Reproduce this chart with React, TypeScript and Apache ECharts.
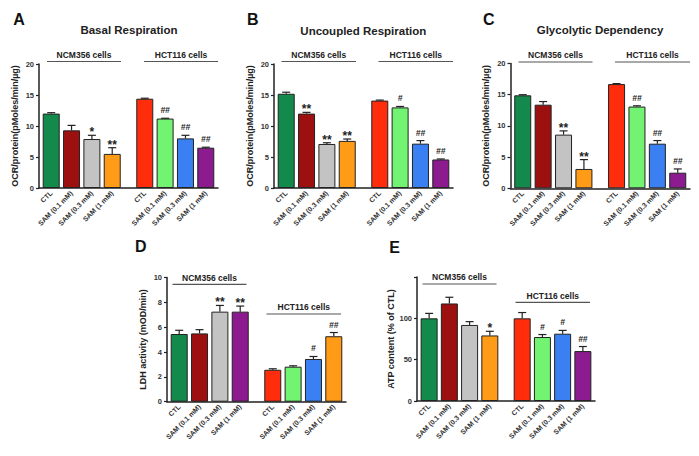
import React, { useEffect, useRef } from "react";
import * as echarts from "echarts";

// ---- data ----
const categories = ["CTL", "SAM (0.1 mM)", "SAM (0.3 mM)", "SAM (1 mM)"];

const basalNCM = [12.0, 9.3, 7.9, 5.5];
const basalNCMErr = [0.15, 0.8, 0.6, 1.0];
const basalHCT = [14.4, 11.2, 8.0, 6.5];
const basalHCTErr = [0.08, 0.05, 0.5, 0.08];
const basalSig = ["", "", "*", "**", "", "##", "##", "##"];

const uncoupledNCM = [15.2, 12.0, 7.1, 7.6];
const uncoupledNCMErr = [0.25, 0.2, 0.2, 0.3];
const uncoupledHCT = [14.1, 13.0, 7.15, 4.6];
const uncoupledHCTErr = [0.08, 0.15, 0.5, 0.08];
const uncoupledSig = ["", "**", "**", "**", "", "#", "##", "##"];

const glycoNCM = [14.9, 13.4, 8.6, 3.1];
const glycoNCMErr = [0.1, 0.5, 0.6, 1.5];
const glycoHCT = [16.7, 13.1, 7.15, 2.5];
const glycoHCTErr = [0.08, 0.12, 0.5, 0.6];
const glycoSig = ["", "", "**", "**", "", "##", "##", "##"];

const ldhNCM = [5.45, 5.5, 7.25, 7.25];
const ldhNCMErr = [0.3, 0.3, 0.5, 0.45];
const ldhHCT = [2.57, 2.82, 3.44, 5.27];
const ldhHCTErr = [0.08, 0.07, 0.2, 0.3];
const ldhSig = ["", "", "**", "**", "", "", "#", "##"];

const atpNCM = [100, 118, 92, 79.3];
const atpNCMErr = [6, 7.5, 4, 5];
const atpHCT = [100, 77.4, 81.4, 60.4];
const atpHCTErr = [7, 3, 4, 5.5];
const atpSig = ["", "", "", "*", "", "#", "#", "##"];

// ---- colours ----
const GREEN = "#13894b";
const DARKRED = "#9c1010";
const GREY = "#c3c3c3";
const ORANGE = "#ff9b16";
const RED = "#ff2d0c";
const LIGHTGREEN = "#72f472";
const BLUE = "#3b80f2";
const PURPLE = "#8b1b8e";
const colorsStd = [GREEN, DARKRED, GREY, ORANGE, RED, LIGHTGREEN, BLUE, PURPLE];
const colorsLDH = [GREEN, DARKRED, GREY, PURPLE, RED, LIGHTGREEN, BLUE, ORANGE];

// ---- layout ----
const FONT = "'Liberation Sans', Arial, Helvetica, sans-serif";
const N_SLOTS = 45;
const SLOT_POS = [3, 8, 13, 18, 26, 31, 36, 41];
const slotNames = Array.from({ length: N_SLOTS }, (_, i) => "s" + i);
const allLabels = [...categories, ...categories];

type Panel = {
  letter: string;
  letterPos: [number, number];
  title: string;
  titlePos: [number, number];
  yName: string;
  max: number;
  interval: number;
  hideTop: boolean;
  grid: { left: number; top: number; width: number; height: number };
  values: number[];
  errs: number[];
  sig: string[];
  colors: string[];
  groups: { x1: number; x2: number; y: number; text: string }[];
};

const panels: Panel[] = [
  {
    letter: "A", letterPos: [19, 19], title: "Basal Respiration", titlePos: [129, 30],
    yName: "OCR/protein(pMoles/min/µg)", max: 20, interval: 5, hideTop: false,
    grid: { left: 39, top: 64, width: 179, height: 124 },
    values: [...basalNCM, ...basalHCT], errs: [...basalNCMErr, ...basalHCTErr], sig: basalSig,
    colors: colorsStd,
    groups: [
      { x1: 47, x2: 121, y: 61.5, text: "NCM356 cells" },
      { x1: 144, x2: 218, y: 61.5, text: "HCT116 cells" },
    ],
  },
  {
    letter: "B", letterPos: [252.7, 19], title: "Uncoupled Respiration", titlePos: [363.3, 30.5],
    yName: "OCR/protein(pMoles/min/µg)", max: 20, interval: 5, hideTop: false,
    grid: { left: 274, top: 64, width: 179, height: 124 },
    values: [...uncoupledNCM, ...uncoupledHCT], errs: [...uncoupledNCMErr, ...uncoupledHCTErr], sig: uncoupledSig,
    colors: colorsStd,
    groups: [
      { x1: 281.5, x2: 356, y: 61.5, text: "NCM356 cells" },
      { x1: 378.5, x2: 453, y: 61.5, text: "HCT116 cells" },
    ],
  },
  {
    letter: "C", letterPos: [488.7, 19], title: "Glycolytic Dependency", titlePos: [600, 30],
    yName: "OCR/protein(pMoles/min/µg)", max: 20, interval: 5, hideTop: false,
    grid: { left: 510.5, top: 63.5, width: 179.5, height: 124.8 },
    values: [...glycoNCM, ...glycoHCT], errs: [...glycoNCMErr, ...glycoHCTErr], sig: glycoSig,
    colors: colorsStd,
    groups: [
      { x1: 518.5, x2: 592.5, y: 62, text: "NCM356 cells" },
      { x1: 615, x2: 690, y: 62, text: "HCT116 cells" },
    ],
  },
  {
    letter: "D", letterPos: [140.8, 246.7], title: "", titlePos: [0, 0],
    yName: "LDH activity (mOD/min)", max: 10, interval: 2, hideTop: false,
    grid: { left: 167, top: 277.5, width: 179, height: 124.2 },
    values: [...ldhNCM, ...ldhHCT], errs: [...ldhNCMErr, ...ldhHCTErr], sig: ldhSig,
    colors: colorsLDH,
    groups: [
      { x1: 172.5, x2: 246.5, y: 284.3, text: "NCM356 cells" },
      { x1: 266.5, x2: 341, y: 314, text: "HCT116 cells" },
    ],
  },
  {
    letter: "E", letterPos: [394.7, 247.3], title: "", titlePos: [0, 0],
    yName: "ATP content (% of CTL)", max: 150, interval: 50, hideTop: true,
    grid: { left: 417, top: 277, width: 178, height: 124 },
    values: [...atpNCM, ...atpHCT], errs: [...atpNCMErr, ...atpHCTErr], sig: atpSig,
    colors: colorsStd,
    groups: [
      { x1: 422.5, x2: 496.5, y: 284, text: "NCM356 cells" },
      { x1: 515.5, x2: 590, y: 302.3, text: "HCT116 cells" },
    ],
  },
];

const AXIS_COLOR = "#222";

function buildOption() {
  const grid = panels.map((p) => ({ ...p.grid }));
  const xAxis = panels.map((p, i) => ({
    type: "category",
    gridIndex: i,
    data: slotNames,
    boundaryGap: false,
    axisLine: { show: true, lineStyle: { color: AXIS_COLOR, width: 1.5 } },
    axisTick: { show: false },
    splitLine: { show: false },
    axisLabel: {
      interval: 0,
      rotate: 45,
      margin: 4,
      fontSize: 7,
      fontWeight: "bold",
      color: "#333",
      fontFamily: FONT,
      formatter: (_v: string, idx: number) => {
        const k = SLOT_POS.indexOf(idx);
        return k >= 0 ? allLabels[k] : "";
      },
    },
  }));
  const yAxis = panels.map((p, i) => ({
    type: "value",
    gridIndex: i,
    min: 0,
    max: p.max,
    interval: p.interval,
    axisLine: { show: true, lineStyle: { color: AXIS_COLOR, width: 1.5 } },
    axisTick: { show: true, length: 3, lineStyle: { color: AXIS_COLOR, width: 1.2 } },
    splitLine: { show: false },
    axisLabel: {
      margin: 5,
      fontSize: 7.5,
      fontWeight: "bold",
      color: "#333",
      fontFamily: FONT,
      formatter: (v: number) => (p.hideTop && v === p.max ? "" : String(v)),
    },
    name: p.yName,
    nameLocation: "middle",
    nameGap: 20,
    nameTextStyle: { fontSize: 9, fontWeight: "bold", color: "#222", fontFamily: FONT },
  }));

  const series: any[] = [];
  panels.forEach((p, i) => {
    series.push({
      type: "bar",
      xAxisIndex: i,
      yAxisIndex: i,
      barWidth: 17,
      itemStyle: { borderColor: "#222", borderWidth: 1 },
      data: p.values.map((v, k) => ({
        value: [SLOT_POS[k], v],
        itemStyle: { color: p.colors[k], borderColor: "#222", borderWidth: 1 },
      })),
    });
    series.push({
      type: "custom",
      xAxisIndex: i,
      yAxisIndex: i,
      z: 5,
      data: p.values.map((v, k) => [SLOT_POS[k], v, p.errs[k]]),
      renderItem: (params: any, api: any) => {
        const x = api.value(0);
        const v = api.value(1);
        const e = api.value(2);
        const base = api.coord([x, v]);
        const top = api.coord([x, v + e]);
        const s = p.sig[params.dataIndex] || "";
        const children: any[] = [];
        if (e > 0) {
          children.push({
            type: "line",
            shape: { x1: base[0], y1: base[1], x2: top[0], y2: top[1] },
            style: { stroke: "#222", lineWidth: 1.2 },
          });
          children.push({
            type: "line",
            shape: { x1: top[0] - 4, y1: top[1], x2: top[0] + 4, y2: top[1] },
            style: { stroke: "#222", lineWidth: 1.2 },
          });
        }
        if (s) {
          const isStar = s.indexOf("*") >= 0;
          children.push({
            type: "text",
            x: top[0],
            y: top[1] - (isStar ? 3 : 8),
            style: {
              text: s,
              fontSize: isStar ? 12 : 8.5,
              fontWeight: "bold",
              fontStyle: isStar ? "normal" : "italic",
              fontFamily: FONT,
              fill: "#222",
              align: "center",
              verticalAlign: "middle",
            },
          });
        }
        return { type: "group", children };
      },
    });
  });

  const graphic: any[] = [];
  panels.forEach((p) => {
    graphic.push({
      type: "text",
      x: p.letterPos[0],
      y: p.letterPos[1],
      style: {
        text: p.letter, fontSize: 16, fontWeight: "bold", fontFamily: FONT, fill: "#111",
        align: "center", verticalAlign: "middle",
      },
    });
    if (p.title) {
      graphic.push({
        type: "text",
        x: p.titlePos[0],
        y: p.titlePos[1],
        style: {
          text: p.title, fontSize: 11.5, fontWeight: "bold", fontFamily: FONT, fill: "#222",
          align: "center", verticalAlign: "middle",
        },
      });
    }
    p.groups.forEach((g) => {
      graphic.push({
        type: "line",
        shape: { x1: g.x1, y1: g.y, x2: g.x2, y2: g.y },
        style: { stroke: "#555", lineWidth: 1.2 },
      });
      graphic.push({
        type: "text",
        x: (g.x1 + g.x2) / 2,
        y: g.y - 6.7,
        style: {
          text: g.text, fontSize: 8.5, fontWeight: "bold", fontFamily: FONT, fill: "#222",
          align: "center", verticalAlign: "middle",
        },
      });
    });
  });

  return {
    animation: false,
    backgroundColor: "#ffffff",
    textStyle: { fontFamily: FONT },
    grid,
    xAxis,
    yAxis,
    series,
    graphic,
  };
}

export default function App() {
  const ref = useRef<HTMLDivElement>(null);
  useEffect(() => {
    document.body.style.margin = "0";
    if (!ref.current) return;
    const chart = echarts.init(ref.current, undefined, { renderer: "svg" });
    chart.setOption(buildOption() as any);
    return () => chart.dispose();
  }, []);
  return <div ref={ref} style={{ width: 699, height: 456 }} />;
}
